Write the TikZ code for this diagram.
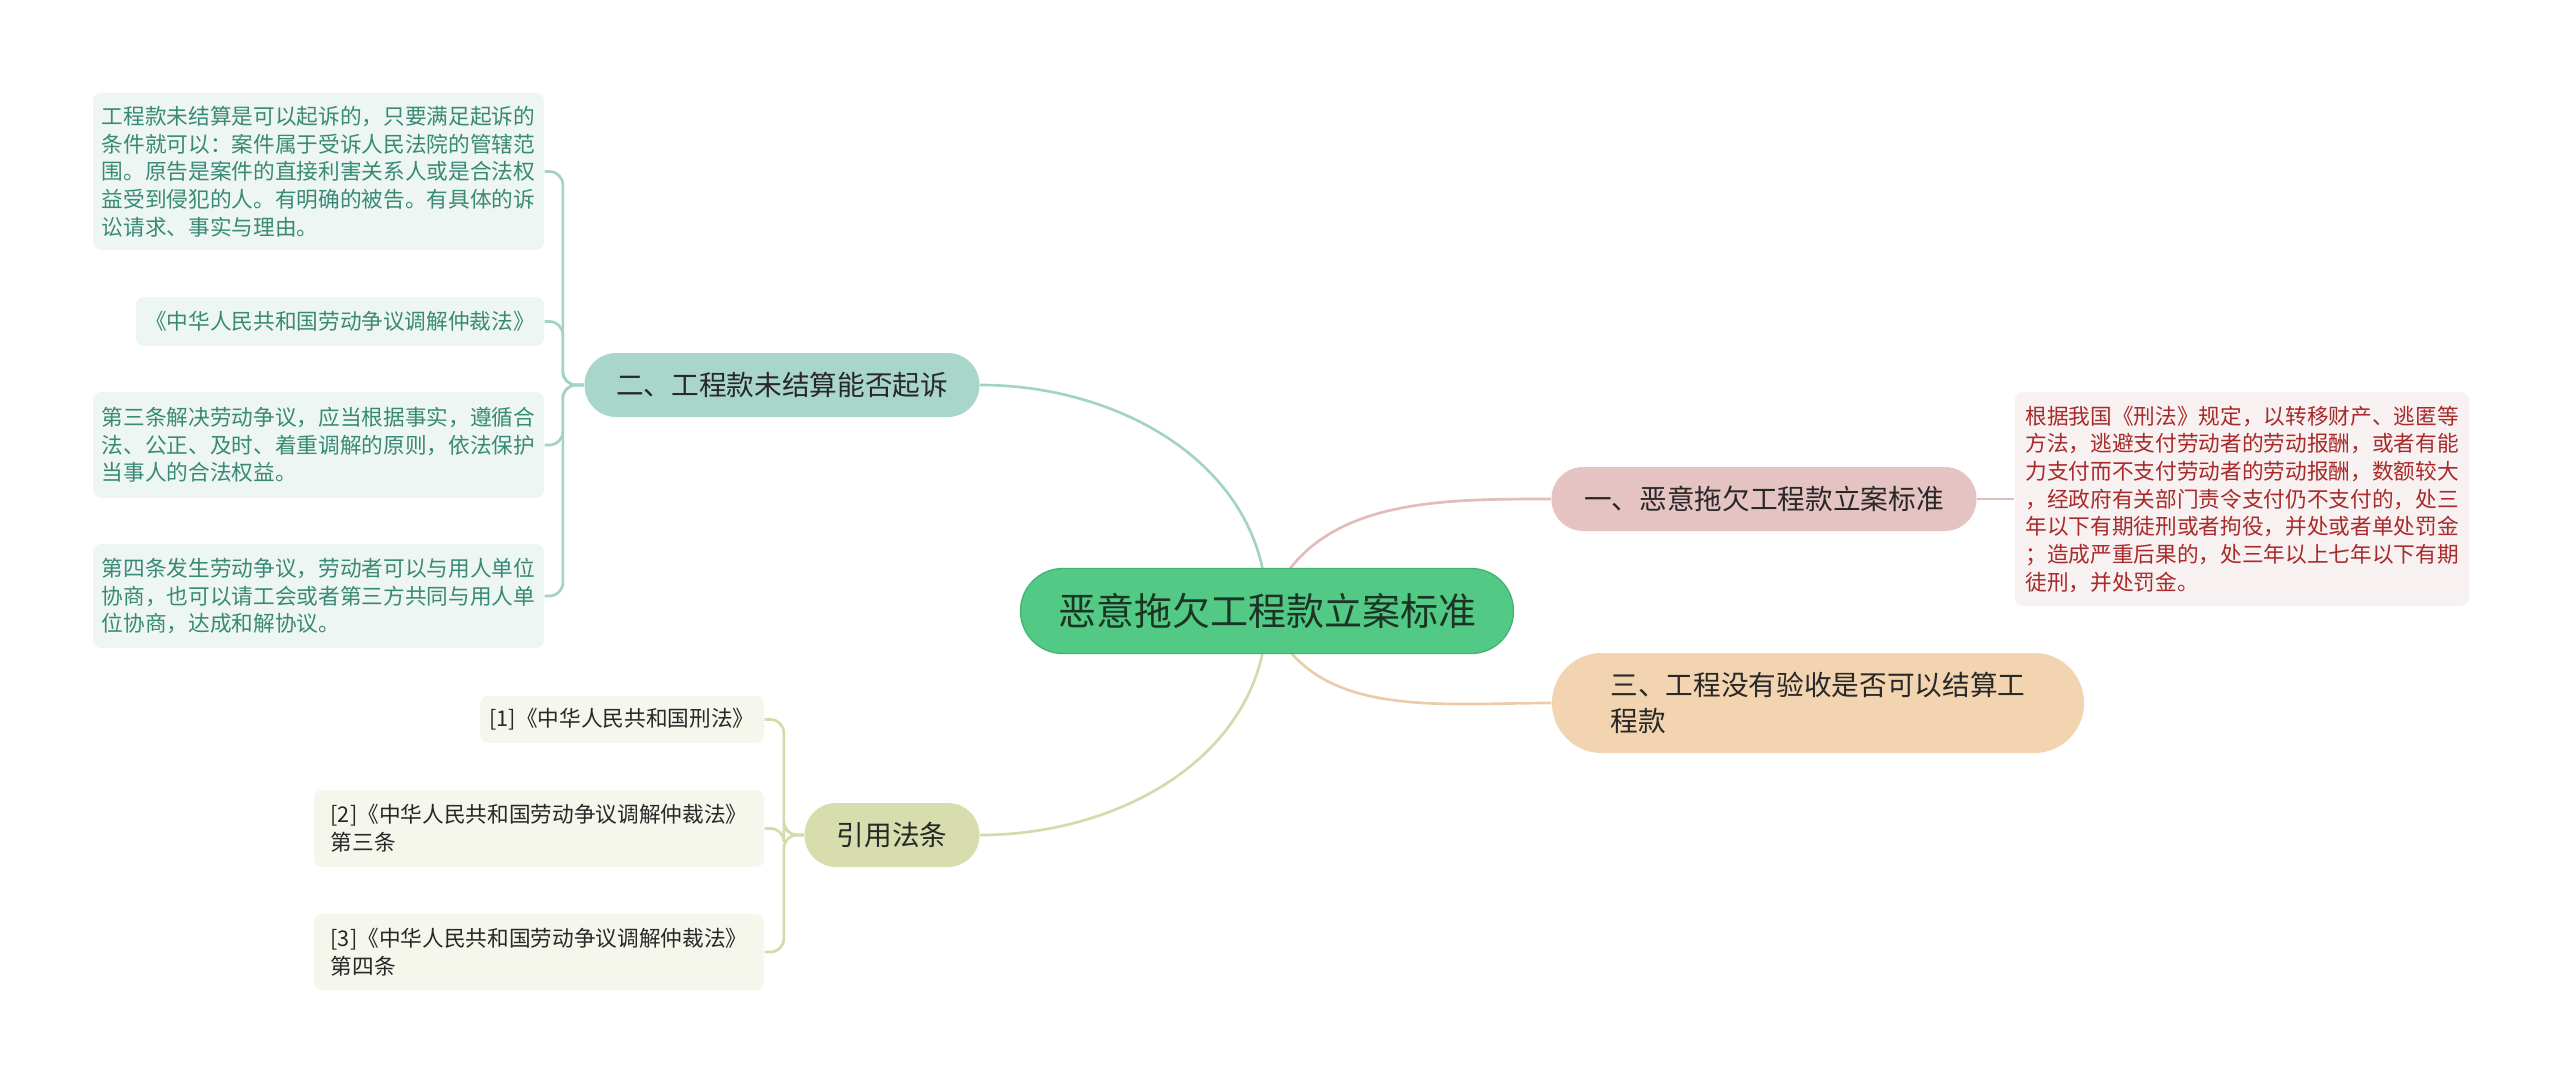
\documentclass[tikz,border=0pt]{standalone}
\usepackage{fontspec}
\setmainfont{Noto Sans CJK SC}
\usepackage{tikz}
\usetikzlibrary{positioning,backgrounds}
\definecolor{rootc}{RGB}{82,201,133}
\definecolor{rootd}{RGB}{66,180,112}
\definecolor{roottxt}{RGB}{28,52,36}
\definecolor{tealc}{RGB}{168,214,203}
\definecolor{pinkc}{RGB}{230,195,195}
\definecolor{peachc}{RGB}{242,212,176}
\definecolor{olivec}{RGB}{216,221,174}
\definecolor{tealline}{RGB}{163,211,198}
\definecolor{pinkline}{RGB}{226,187,187}
\definecolor{peachline}{RGB}{236,204,168}
\definecolor{oliveline}{RGB}{212,218,170}
\definecolor{tealbg}{RGB}{238,246,243}
\definecolor{pinkbg}{RGB}{248,241,241}
\definecolor{olivebg}{RGB}{245,246,236}
\definecolor{tealtxt}{RGB}{56,138,116}
\definecolor{redtxt}{RGB}{168,42,42}
\definecolor{darktxt}{RGB}{40,40,40}
\tikzset{
  root/.style={draw=rootd,fill=rootc,text=roottxt,rounded corners=12.7pt,minimum width=147.9pt,minimum height=25.5pt,font=\fontsize{11.4}{13.5}\selectfont},
  topic/.style={text=darktxt,rounded corners=9.5pt,minimum height=19.2pt,inner sep=0pt,align=left,font=\fontsize{8.3}{10.8}\selectfont},
  leaf/.style={rounded corners=2.4pt,inner sep=0pt,align=left,font=\fontsize{6.5}{8.3}\selectfont},
  tleaf/.style={leaf,fill=tealbg,text=tealtxt,minimum width=135.3pt},
  rleaf/.style={leaf,fill=pinkbg,text=redtxt},
  oleaf/.style={leaf,fill=olivebg,text=darktxt},
  link/.style={line width=0.8pt},
  fork/.style={link,rounded corners=4pt},
}
\begin{document}
\begin{tikzpicture}[x=0.3pt,y=0.3pt]
  \useasboundingbox (0,0) rectangle (2560,-1082);
  % centre and main topics
  \node[root] (root) at (1267,-611) {恶意拖欠工程款立案标准};
  \node[topic,fill=tealc,minimum width=118.5pt] (t2) at (782,-385) {二、工程款未结算能否起诉};
  \node[topic,fill=pinkc,minimum width=127.5pt] (t1) at (1764,-499) {一、恶意拖欠工程款立案标准};
  \node[topic,fill=peachc,minimum width=159.6pt,minimum height=30pt,rounded corners=14.9pt] (t3) at (1818,-703)
    {三、工程没有验收是否可以结算工\\程款};
  \node[topic,fill=olivec,minimum width=52.5pt] (cite) at (892,-835) {引用法条};
  % right leaf
  \node[rleaf,minimum width=136.2pt,minimum height=64.2pt] (r1) at (2242,-499)
    {根据我国《刑法》规定，以转移财产、逃匿等\\方法，逃避支付劳动者的劳动报酬，或者有能\\力支付而不支付劳动者的劳动报酬，数额较大\\，经政府有关部门责令支付仍不支付的，处三\\年以下有期徒刑或者拘役，并处或者单处罚金\\；造成严重后果的，处三年以上七年以下有期\\徒刑，并处罚金。};
  % left leaves
  \node[tleaf,minimum height=47.1pt] (a1) at (318.5,-171.5)
    {工程款未结算是可以起诉的，只要满足起诉的\\条件就可以：案件属于受诉人民法院的管辖范\\围。原告是案件的直接利害关系人或是合法权\\益受到侵犯的人。有明确的被告。有具体的诉\\讼请求、事实与理由。};
  \node[tleaf,minimum width=122.4pt,minimum height=14.7pt] (a2) at (340,-321.5)
    {《中华人民共和国劳动争议调解仲裁法》};
  \node[tleaf,minimum height=31.8pt] (a3) at (318.5,-445)
    {第三条解决劳动争议，应当根据事实，遵循合\\法、公正、及时、着重调解的原则，依法保护\\当事人的合法权益。};
  \node[tleaf,minimum height=31.2pt] (a4) at (318.5,-596)
    {第四条发生劳动争议，劳动者可以与用人单位\\协商，也可以请工会或者第三方共同与用人单\\位协商，达成和解协议。};
  % citations
  \node[oleaf,minimum width=85.2pt,minimum height=14.1pt] (c1) at (622,-719.5) {[1]《中华人民共和国刑法》};
  \node[oleaf,minimum width=135pt,minimum height=23.1pt] (c2) at (539,-828.5)
    {[2]《中华人民共和国劳动争议调解仲裁法》\\第三条};
  \node[oleaf,minimum width=135pt,minimum height=22.8pt] (c3) at (539,-952)
    {[3]《中华人民共和国劳动争议调解仲裁法》\\第四条};
  \begin{scope}[on background layer]
    \draw[link,tealline] (root.center) to[out=90,in=0] (t2.east);
    \draw[link,pinkline] (root.center) to[out=70,in=180] (t1.west);
    \draw[link,peachline] (root.center) to[out=-70,in=180] (t3.west);
    \draw[link,oliveline] (root.center) to[out=-90,in=0] (cite.east);
    \draw[link,pinkline] (t1.east) -- (r1.west);
    \foreach \l in {a1,a2,a3,a4}
      \draw[fork,tealline] (t2.west) -- ++(-21,0) |- (\l.east);
    \foreach \l in {c1,c2,c3}
      \draw[fork,oliveline] (cite.west) -- ++(-20,0) |- (\l.east);
  \end{scope}
\end{tikzpicture}
\end{document}
